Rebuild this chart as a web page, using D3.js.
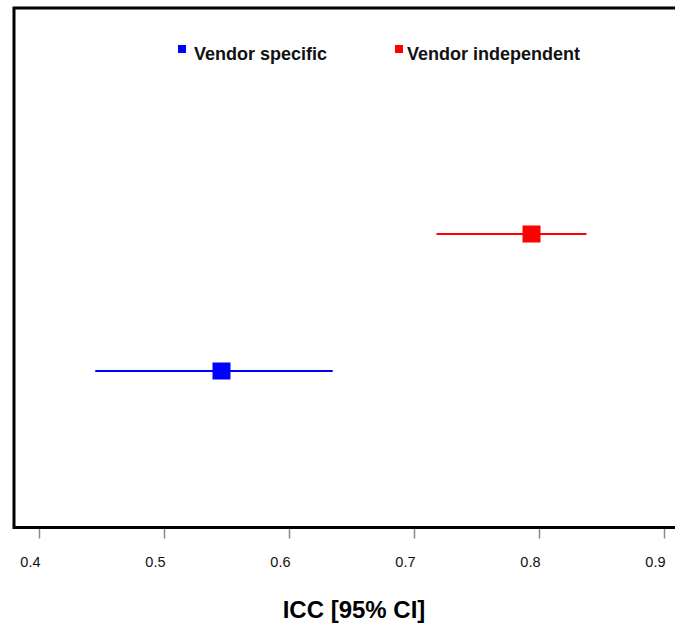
<!DOCTYPE html>
<html lang="en">
<head>
    <meta charset="UTF-8">
    <title>ICC forest plot</title>
    <script src="https://cdn.jsdelivr.net/npm/d3@7"></script>
    <style>
        body { margin: 0; background: #fff; }
        svg { display: block; font-family: "Liberation Sans", Arial, sans-serif; }
    </style>
</head>
<body>
    <div id="chart"></div>
    <script>
        // values
        const groups = ["Vendor specific", "Vendor independent"];
        const icc = [0.546, 0.794];
        const lower = [0.445, 0.718];
        const upper = [0.635, 0.838];
        const rows = [1, 2];
        const colors = ["#0000ff", "#ff0000"];
        const xTicks = [0.4, 0.5, 0.6, 0.7, 0.8, 0.9];

        const W = 675, H = 623;
        const box = { left: 14, top: 8, right: 700, bottom: 527.5 };

        const svg = d3.select("#chart").append("svg")
            .attr("width", W)
            .attr("height", H);

        const x = d3.scaleLinear().domain([0.4, 0.9]).range([39, 664]);
        const y = d3.scaleLinear().domain([0, 1]).range([508, 371]);

        const data = groups.map((g, i) => ({
            group: g, est: icc[i], lo: lower[i], hi: upper[i], row: rows[i], color: colors[i]
        }));

        // bottom axis: gray ticks, labels sitting just left of each tick
        const axis = svg.append("g")
            .attr("transform", `translate(0,${box.bottom})`)
            .call(d3.axisBottom(x).tickValues(xTicks).tickSize(11).tickFormat(d3.format(".1f")));
        axis.select(".domain").remove();
        axis.selectAll(".tick line").attr("stroke", "#888").attr("stroke-width", 1.5);
        axis.selectAll(".tick text")
            .attr("text-anchor", "end")
            .attr("x", 1)
            .attr("y", 0)
            .attr("dy", 0)
            .attr("transform", "translate(0,39)")
            .attr("fill", "#111")
            .style("font-size", "14.5px");

        svg.append("text")
            .attr("x", 354)
            .attr("y", 618)
            .attr("text-anchor", "middle")
            .style("font-size", "24px")
            .style("font-weight", "bold")
            .text("ICC [95% CI]");

        // confidence intervals
        svg.selectAll(".ci")
            .data(data)
            .join("line")
            .attr("class", "ci")
            .attr("x1", d => x(d.lo))
            .attr("x2", d => x(d.hi))
            .attr("y1", d => y(d.row))
            .attr("y2", d => y(d.row))
            .attr("stroke", d => d.color)
            .attr("stroke-width", 2);

        // point estimates
        const sq = 18;
        svg.selectAll(".est")
            .data(data)
            .join("rect")
            .attr("class", "est")
            .attr("x", d => x(d.est) - sq / 2)
            .attr("y", d => y(d.row) - 8.5)
            .attr("width", sq)
            .attr("height", 17)
            .attr("fill", d => d.color);

        // legend
        const legendX = [178, 395];
        const legend = svg.selectAll(".legendEntry")
            .data(data)
            .join("g")
            .attr("class", "legendEntry")
            .attr("transform", (d, i) => `translate(${legendX[i]},45)`);
        legend.append("rect")
            .attr("width", 8)
            .attr("height", 8)
            .attr("fill", d => d.color);
        legend.append("text")
            .attr("x", (d, i) => i === 0 ? 16 : 12)
            .attr("y", 15)
            .style("font-size", "18px")
            .style("font-weight", "bold")
            .attr("fill", "#111")
            .text(d => d.group);

        // plot frame (right side runs off the page)
        svg.append("rect")
            .attr("x", box.left)
            .attr("y", box.top)
            .attr("width", box.right - box.left)
            .attr("height", box.bottom - box.top)
            .attr("fill", "none")
            .attr("stroke", "#000")
            .attr("stroke-width", 3);
    </script>
</body>
</html>
